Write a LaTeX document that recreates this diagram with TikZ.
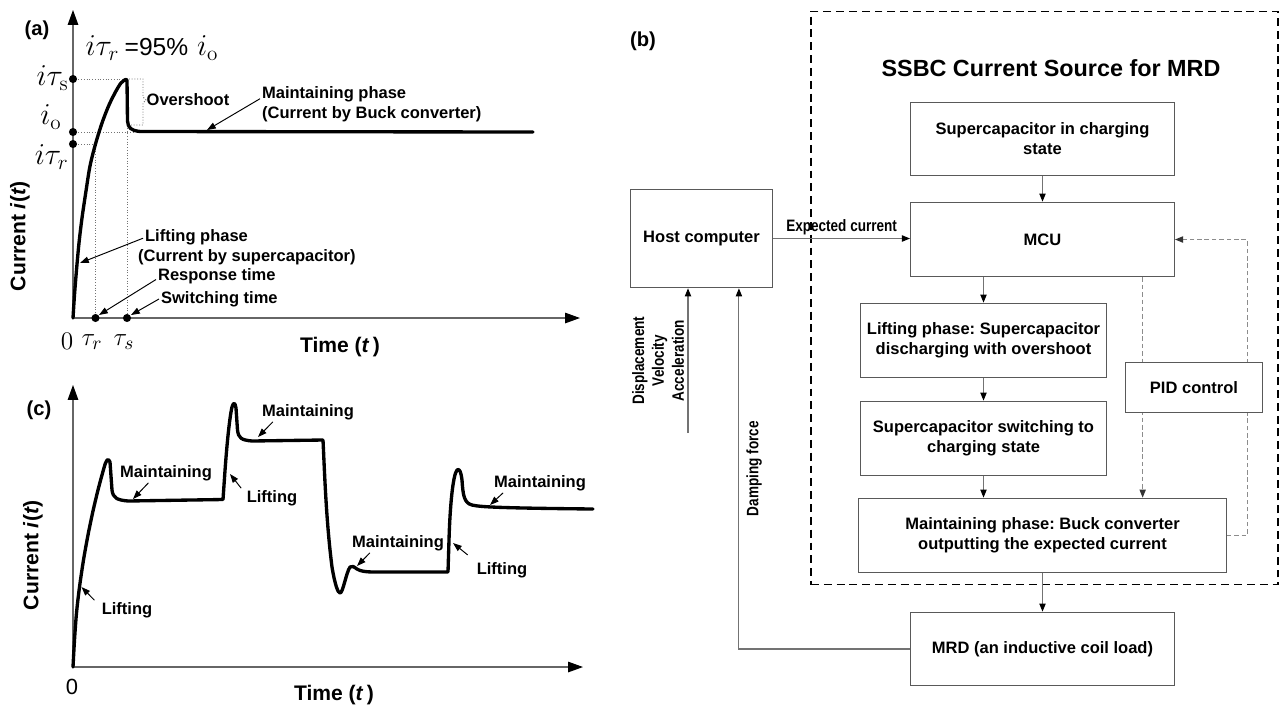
\documentclass[tikz,border=0pt]{standalone}
\usepackage[no-math]{fontspec}
\setmainfont{Liberation Sans}
\usepackage{graphicx}
\usetikzlibrary{arrows.meta,positioning}

\newcommand{\nrw}[1]{\scalebox{0.82}[1]{#1}}
\def\pxu{0.5669pt}
\frenchspacing

\begin{document}
\begin{tikzpicture}[x=0.02cm, y=-0.02cm,
            lbl/.style = {font=\bfseries\fontsize{9.4}{11.3}\selectfont, inner sep=1pt},
            tag/.style = {font=\bfseries\fontsize{11.5}{13}\selectfont, inner sep=0pt},
            axtitle/.style = {font=\bfseries\fontsize{12}{14}\selectfont, inner sep=0pt},
            mathlbl/.style = {font=\fontsize{18}{20}\selectfont, inner sep=0pt},
            ticklbl/.style = {font=\fontsize{15}{17}\selectfont, inner sep=0pt},
            axis/.style = {draw=black!60, line width=0.6pt, -{Triangle[length=8.5pt,width=6pt,color=black]}},
            curve/.style = {line width=1.9pt, line join=round, line cap=round},
            guide/.style = {draw=black!55, densely dotted, line width=0.55pt},
            pointer/.style = {line width=0.55pt, -{Triangle[length=5pt,width=3.6pt]}},
            dot/.style = {circle, fill, inner sep=0pt, minimum size=4.6pt},
            block/.style = {draw=black!65, line width=0.6pt, fill=white, align=center,
                font=\bfseries\fontsize{9.4}{11.3}\selectfont, inner sep=2pt},
            flow/.style = {draw=black!55, line width=0.6pt, -{Triangle[length=4.6pt,width=3.6pt,color=black]}},
            ctrl/.style = {draw=black!45, line width=0.55pt, dash pattern=on 2.6pt off 1.6pt,
                -{Triangle[length=4.6pt,width=3.6pt,color=black!80]}}]
            \useasboundingbox (0,0) rectangle (1288,708);

            % (a) lifting and maintaining of one step
            \node[tag] (taga) at (37,30) {(a)};
            \coordinate (oa) at (73,318);
            \draw[axis] (oa) -- (73,10);
            \draw[axis] (oa) -- (580,318);
            \node[axtitle] (timea) at (340,347) {Time (\textit{t}\,)};
            \node[axtitle, rotate=90] (cura) at (20,236) {Current \textit{i}(\textit{t})};
            \node[mathlbl] (form) at (152,48) {$i\tau_r$\,{\fontsize{14}{16}\selectfont =95\%} $i_{\mathrm{o}}$};
            \node[mathlbl, anchor=east] (lts) at (69,78) {$i\tau_{\mathrm{s}}$};
            \node[mathlbl, anchor=east] (lio) at (62,117) {$i_{\mathrm{o}}$};
            \node[mathlbl, anchor=east] (ltr) at (69,157) {$i\tau_r$};
            \node[ticklbl] (zeroa) at (67,341) {$0$};
            \node[ticklbl] (ttr) at (92,342) {$\tau_r$};
            \node[ticklbl] (tts) at (124,342) {$\tau_s$};
            \draw[guide] (73,79) -- (124,79);
            \draw[guide] (73,132) -- (133,132);
            \draw[guide] (73,144) -- (95.5,144) -- (95.5,318);
            \draw[guide] (127,79) -- (127,318);
            \draw[guide] (129,79) -- (143,79) -- (143,97) -- (146,100) -- (143,103) -- (143,125) -- (130,125);
            \draw[curve] plot[smooth] coordinates {(73,318) (74.5,295) (76.5,270) (79,243) (82,218) (86,191)
                (90,166) (95.5,144) (102,123) (109,105) (116,91) (121,83) (125.5,79.5)}
                -- (127,80) -- (127.5,121) .. controls (128,128) and (131,130.5) .. (140,131.5) -- (533,132);
            \node[dot] (dts) at (73,79) {};
            \node[dot] (dio) at (73,132) {};
            \node[dot] (dtr) at (73,144) {};
            \node[dot] (dxr) at (95.5,318) {};
            \node[dot] (dxs) at (127,318) {};
            \node[lbl] (over) at (188,100) {Overshoot};
            \node[lbl, anchor=west, align=left] (maina) at (260,104) {Maintaining phase\\(Current by Buck converter)};
            \node[lbl, anchor=west, align=left] (lifta) at (136,247) {\hspace*{4pt}Lifting phase\\(Current by supercapacitor)};
            \node[lbl, anchor=west] (resp) at (156,276) {Response time};
            \node[lbl, anchor=west] (swit) at (159,299) {Switching time};
            \coordinate (pma) at (207,130);
            \coordinate (pla) at (80,263);
            \coordinate (pra) at (99,315);
            \coordinate (psa) at (131,315);
            \draw[pointer] ([yshift=3pt]maina.west) -- (pma);
            \draw[pointer] ([xshift=4pt,yshift=5pt]lifta.west) -- (pla);
            \draw[pointer] ([yshift=-2pt]resp.west) -- (pra);
            \draw[pointer] (swit.west) -- (psa);

            % (c) several steps
            \node[tag] (tagc) at (39,410) {(c)};
            \coordinate (oc) at (73,667);
            \draw[axis] (oc) -- (73,385);
            \draw[axis] (oc) -- (583,667);
            \node[ticklbl, font=\fontsize{12.5}{14}\selectfont] (zeroc) at (72,687) {0};
            \node[axtitle] (timec) at (334,695) {Time (\textit{t}\,)};
            \node[axtitle, rotate=90] (curc) at (33,555) {Current \textit{i}(\textit{t})};
            \draw[curve] plot[smooth] coordinates {(73,667) (74.5,640) (76.5,613) (79.5,587) (83.5,560) (88,535)
                (93,511) (98,490) (102,475) (105.5,463) (108,459.5) (110,462)}
                -- (112,490) .. controls (113,498) and (117,500) .. (128,501) -- (223,499.5)
                -- (224.5,478) .. controls (226,455) and (229,420) .. (232,407)
                .. controls (233.5,402) and (235,402) .. (236,408) -- (237.5,430)
                .. controls (238.5,438) and (241,440) .. (252,441) -- (323,440)
                .. controls (324.5,470) and (326,520) .. (332,567) .. controls (335,585) and (338,593) .. (340,593)
                .. controls (343,593) and (346,573) .. (350,567) .. controls (352,565) and (354,567) .. (357,569)
                .. controls (360,571) and (365,572) .. (375,572) -- (448,572)
                -- (449,540) .. controls (450,505) and (453,475) .. (457,470)
                .. controls (459.5,468) and (461,472) .. (462,480) .. controls (463,495) and (464,503) .. (472,505)
                .. controls (480,507) and (500,508) .. (593,509);
            \node[lbl] (lc1) at (127,610) {Lifting};
            \node[lbl] (mc1) at (166,473) {Maintaining};
            \node[lbl] (lc2) at (272,498) {Lifting};
            \node[lbl] (mc2) at (308,412) {Maintaining};
            \node[lbl] (mc3) at (398,543) {Maintaining};
            \node[lbl] (lc3) at (502,570) {Lifting};
            \node[lbl] (mc4) at (540,483) {Maintaining};
            \coordinate (cl1) at (81.5,587);
            \coordinate (cm1) at (133,499);
            \coordinate (cl2) at (230,474);
            \coordinate (cm2) at (258,437);
            \coordinate (cm3) at (357,566);
            \coordinate (cl3) at (453,543);
            \coordinate (cm4) at (490,505);
            \draw[pointer] ([xshift=-3pt]lc1.north west) -- (cl1);
            \draw[pointer] ([xshift=-10pt]mc1.south) -- (cm1);
            \draw[pointer] ([xshift=-2pt]lc2.north west) -- (cl2);
            \draw[pointer] ([xshift=-20pt]mc2.south) -- (cm2);
            \draw[pointer] ([xshift=-16pt]mc3.south) -- (cm3);
            \draw[pointer] ([xshift=-4pt,yshift=3pt]lc3.north west) -- (cl3);
            \draw[pointer] ([xshift=-21pt]mc4.south) -- (cm4);

            % (b) block diagram
            \node[tag] (tagb) at (643,41) {(b)};
            \node[draw, line width=0.7pt, dash pattern=on 4.5pt off 2.8pt, minimum width=469*\pxu,
                minimum height=576*\pxu, inner sep=0pt] (ssbc) at (1044.5,298) {};
            \node[font=\bfseries\fontsize{13.3}{15}\selectfont, inner sep=0pt] (title) at (1051,68) {SSBC Current Source for MRD};
            \node[block, minimum width=143*\pxu, minimum height=99*\pxu] (host) at (701.5,238.5) {Host computer};
            \node[block, minimum width=265*\pxu, minimum height=74*\pxu] (supcap) at (1042.5,139) {Supercapacitor in charging\\state};
            \node[block, minimum width=265*\pxu, minimum height=75*\pxu] (mcu) at (1042.5,239.5) {MCU};
            \node[block, minimum width=247*\pxu, minimum height=75*\pxu] (lift) at (983.5,340.5) {Lifting phase: Supercapacitor\\discharging with overshoot};
            \node[block, minimum width=247*\pxu, minimum height=75*\pxu] (switch) at (983.5,438.5) {Supercapacitor switching to\\charging state};
            \node[block, minimum width=369*\pxu, minimum height=75*\pxu] (maint) at (1042.5,535.5) {Maintaining phase: Buck converter\\outputting the expected current};
            \node[block, minimum width=265*\pxu, minimum height=74*\pxu] (mrd) at (1042.5,649) {MRD (an inductive coil load)};
            \draw[flow] (host.east) -- (host.east -| mcu.west)
                node[midway, above, lbl, inner sep=2pt] {\nrw{Expected current}};
            \draw[flow] (supcap) -- (mcu);
            \draw[flow] (lift.north |- mcu.south) -- (lift.north);
            \draw[flow] (lift) -- (switch);
            \draw[flow] (switch.south) -- (switch.south |- maint.north);
            \draw[flow] (maint) -- (mrd);
            \coordinate (sens) at (688,433);
            \draw[flow] (sens) -- (sens |- host.south)
                node[midway, rotate=90, anchor=south, align=center, lbl, inner sep=2pt] {\nrw{Displacement}\\\nrw{Velocity}\\\nrw{Acceleration}};
            \draw[flow] (mrd.west) -| ([xshift=21.3pt]host.south)
                node[pos=0.75, rotate=90, anchor=north, lbl, inner sep=4pt] {\nrw{Damping force}};
            \coordinate (fb) at (1247,239.5);
            \draw[ctrl] ([xshift=57pt]mcu.south) -- ([xshift=57pt]mcu.south |- maint.north);
            \draw[ctrl] (maint.east) -| (fb) -- (mcu.east);
            \node[block, minimum width=138*\pxu, minimum height=51*\pxu] (pid) at (1194,387.5) {PID control};
        \end{tikzpicture}
\end{document}
